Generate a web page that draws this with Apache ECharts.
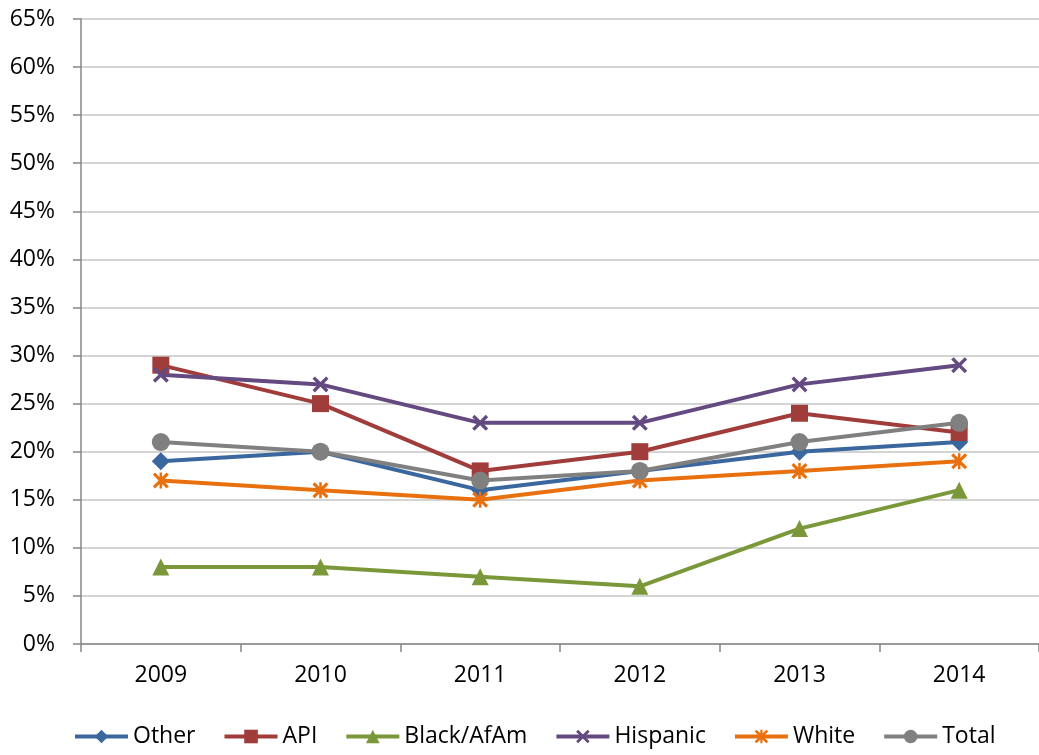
<!DOCTYPE html>
<html>
<head>
<meta charset="utf-8">
<script src="https://cdn.jsdelivr.net/npm/echarts@6/dist/echarts.min.js"></script>
<style>
  html, body { margin: 0; padding: 0; background: #fff; }
  #main { width: 1039px; height: 755px; }
</style>
</head>
<body>
<div id="main"></div>
<script>
// values (percent)
var years = ['2009', '2010', '2011', '2012', '2013', '2014'];
var other = [19, 20, 16, 18, 20, 21];
var api = [29, 25, 18, 20, 24, 22];
var black = [8, 8, 7, 6, 12, 16];
var hispanic = [28, 27, 23, 23, 27, 29];
var white = [17, 16, 15, 17, 18, 19];
var total = [21, 20, 17, 18, 21, 23];

var xMark = 'path://M5,3.5L8.5,0L10,1.5L6.5,5L10,8.5L8.5,10L5,6.5L1.5,10L0,8.5L3.5,5L0,1.5L1.5,0Z';
var starMark = 'path://M5,3.6L8.6,0L10,1.4L6.4,5L10,8.6L8.6,10L5,6.4L1.4,10L0,8.6L3.6,5L0,1.4L1.4,0Z M4.2,0H5.8V10H4.2Z';

function mkSeries(name, data, color, symbol, size) {
    return {
        name: name,
        type: 'line',
        data: data,
        symbol: symbol,
        symbolSize: size,
        showAllSymbol: true,
        lineStyle: { color: color, width: 4 },
        itemStyle: { color: color },
        emphasis: { disabled: true }
    };
}

var chart = echarts.init(document.getElementById('main'));
var option = {
    animation: false,
    textStyle: { fontFamily: 'Open Sans' },
    grid: { left: 81, top: 19, width: 965, height: 625, containLabel: false },
    legend: {
        bottom: 2,
        left: 68,
        itemWidth: 53,
        itemHeight: 17,
        itemGap: 27,
        lineStyle: { width: 4 },
        textStyle: { fontSize: 23, color: '#000', fontFamily: 'Open Sans' },
        data: ['Other', 'API', 'Black/AfAm', 'Hispanic', 'White', 'Total']
    },
    xAxis: {
        type: 'category',
        data: years,
        boundaryGap: true,
        axisLine: { lineStyle: { color: '#868686', width: 1.5 } },
        axisTick: { show: true, length: 8, interval: 0, lineStyle: { color: '#868686', width: 1.5 } },
        axisLabel: { fontSize: 23, color: '#000', margin: 20 }
    },
    yAxis: {
        type: 'value',
        min: 0,
        max: 65,
        interval: 5,
        axisLine: { show: true, lineStyle: { color: '#868686', width: 1.5 } },
        axisTick: { show: true, length: 8, lineStyle: { color: '#868686', width: 1.5 } },
        axisLabel: { fontSize: 23, color: '#000', margin: 26, formatter: '{value}%' },
        splitLine: { lineStyle: { color: '#C6C6C6', width: 1.5 } }
    },
    series: [
        mkSeries('Other', other, '#3A679E', 'diamond', 18),
        mkSeries('API', api, '#A03C3A', 'rect', 17),
        mkSeries('Black/AfAm', black, '#7A983A', 'triangle', 17),
        mkSeries('Hispanic', hispanic, '#644A80', xMark, 16),
        mkSeries('White', white, '#E8700E', starMark, 16),
        mkSeries('Total', total, '#808080', 'circle', 18)
    ]
};
chart.setOption(option);
</script>
</body>
</html>
